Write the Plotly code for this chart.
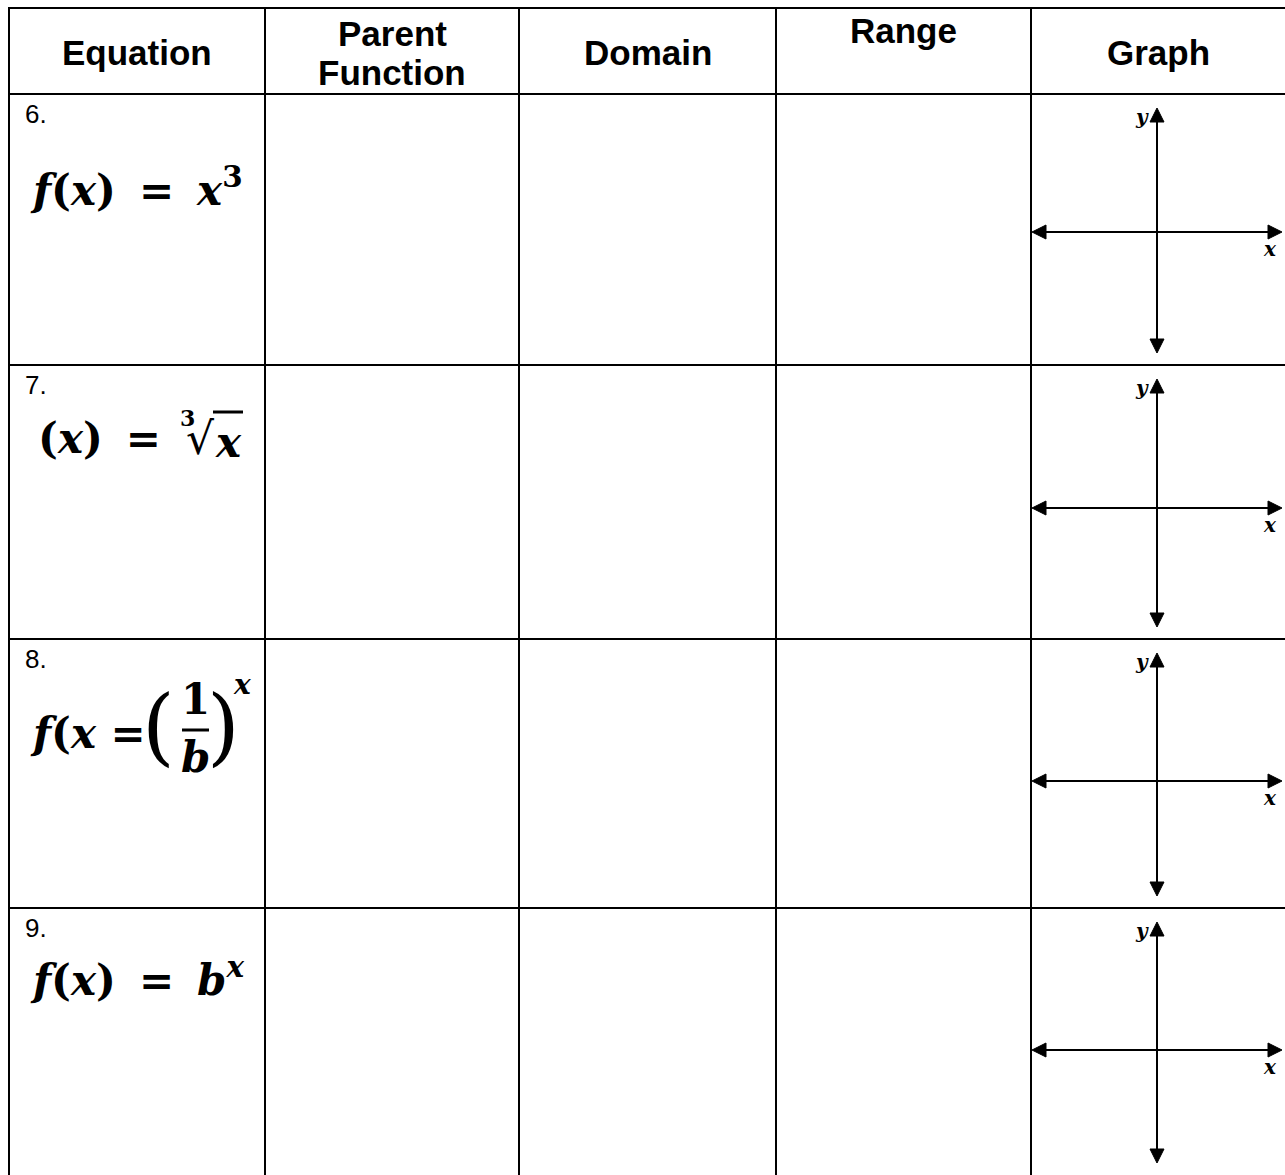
import plotly.graph_objects as go

W, H = 1285, 1175

# table content
headers = ["Equation", "Parent", "Function", "Domain", "Range", "Graph"]
header_pos = [(0, 52), (1, 33), (1, 72), (2, 52), (3, 30), (4, 52)]
row_numbers = ["6.", "7.", "8.", "9."]
eq_6 = "<b><i>f</i>(<i>x</i>)\u2009 = \u2009<i>x</i><sup>3</sup></b>"
eq_9 = "<b><i>f</i>(<i>x</i>)\u2009 = \u2009<i>b<sup>x</sup></i></b>"
axis_labels = ["y", "x"]

# grid geometry (pixels)
col_x = [9, 265, 519, 776, 1031]
col_right = 1285
row_y = [8, 94, 365, 639, 908, 1175]
axis_x = 1157
axis_offsets = [138, 143, 142, 142]   # horizontal axis below row top
MATH = "DejaVu Serif"
SANS = "Liberation Sans"

fig = go.Figure()
shapes = []
ann = []


def text(x, y, s, size, family=MATH, xanchor="left"):
    ann.append(dict(x=x, y=y, text=s, font=dict(family=family, size=size, color="black"),
                    xanchor=xanchor, yanchor="middle", showarrow=False))


line = dict(color="black", width=2)
for x in col_x:
    shapes.append(dict(type="line", x0=x, x1=x, y0=row_y[0], y1=H + 2, line=line))
for y in row_y[:-1]:
    shapes.append(dict(type="line", x0=col_x[0] - 1, x1=W + 2, y0=y, y1=y, line=line))

edges = col_x + [col_right]
col_centers = [(edges[i] + edges[i + 1]) / 2 for i in range(5)]
for h, (c, y) in zip(headers, header_pos):
    text(col_centers[c], y, "<b>" + h + "</b>", 35, SANS, "center")

# row numbers
for i, n in enumerate(row_numbers):
    text(23, row_y[i + 1] + 20, n, 26, SANS)

text(28, 187, eq_6, 42)
text(28, 977, eq_9, 42)

# equation 7: (x) = cube root of x
text(36, 438, "<b>(<i>x</i>)\u2009 =</b>", 42)
text(178, 418, "<b>3</b>", 22)
text(184, 438, "\u221a", 44)
text(213, 442, "<b><i>x</i></b>", 42)
shapes.append(dict(type="line", x0=213, x1=243, y0=412, y1=412, line=dict(color="black", width=3)))

# equation 8: f(x = (1/b)^x
text(28, 733, "<b><i>f</i>(<i>x</i> =</b>", 42)
text(140, 726, "(", 84)
text(205, 726, ")", 84)
text(195, 699, "<b>1</b>", 42, xanchor="center")
text(195, 757, "<b><i>b</i></b>", 42, xanchor="center")
shapes.append(dict(type="line", x0=182, x1=209, y0=730, y1=730, line=dict(color="black", width=3)))
text(231, 684, "<b><i>x</i></b>", 28)

# graph cells: axes with arrowheads
al, aw = 14, 7
for i in range(4):
    top, bot = row_y[i + 1], row_y[i + 2]
    hy = top + axis_offsets[i]
    vt, vb = top + 14, bot - 12
    hl, hr = col_x[4] + 1, 1282
    shapes.append(dict(type="line", x0=hl + al, x1=hr - al, y0=hy, y1=hy, line=line))
    shapes.append(dict(type="line", x0=axis_x, x1=axis_x, y0=vt + al, y1=vb - al, line=line))
    tri = [
        f"M {hl} {hy} L {hl + al} {hy - aw} L {hl + al} {hy + aw} Z",
        f"M {hr} {hy} L {hr - al} {hy - aw} L {hr - al} {hy + aw} Z",
        f"M {axis_x} {vt} L {axis_x - aw} {vt + al} L {axis_x + aw} {vt + al} Z",
        f"M {axis_x} {vb} L {axis_x - aw} {vb - al} L {axis_x + aw} {vb - al} Z",
    ]
    for p in tri:
        shapes.append(dict(type="path", path=p, fillcolor="black", line=dict(color="black", width=1)))
    text(axis_x - 15, vt + 9, "<b><i>" + axis_labels[0] + "</i></b>", 20, xanchor="center")
    text(1270, hy + 17, "<b><i>" + axis_labels[1] + "</i></b>", 20, xanchor="center")

fig.update_layout(
    width=W, height=H,
    margin=dict(l=0, r=0, t=0, b=0),
    paper_bgcolor="white", plot_bgcolor="white",
    xaxis=dict(range=[0, W], visible=False, fixedrange=True),
    yaxis=dict(range=[H, 0], visible=False, fixedrange=True),
    shapes=shapes, annotations=ann, showlegend=False,
)

# drop the default body margin so the figure fills the window exactly
fig.write_html("out.html", config={"displayModeBar": False},
               post_script="document.body.style.margin='0';document.body.style.overflow='hidden';")
